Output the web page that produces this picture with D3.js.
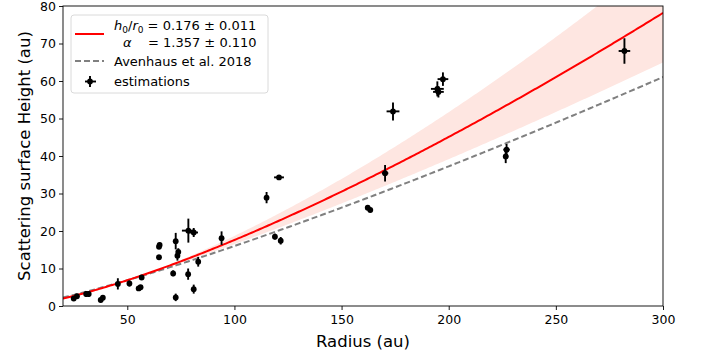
<!DOCTYPE html>
<html>
<head>
<meta charset="utf-8">
<script src="https://cdn.jsdelivr.net/npm/d3@7"></script>
<style>
  body { margin: 0; background: #fff; }
  svg { font-family: "DejaVu Sans", sans-serif; }
</style>
</head>
<body>
<svg id="chart" width="702" height="353"></svg>
<script>
// fitted parameters and the Avenhaus et al. 2018 relation
const h0r0 = 0.176, h0r0Err = 0.011;
const alpha = 1.357, alphaErr = 0.110;
const r0 = 100;
const avenH0r0 = 0.16, avenAlpha = 1.219;

// estimations: radius, height, errors
const radius = [25, 26.5, 30.8, 32, 37.6, 38.6, 45.6, 51, 55.3, 56.2, 56.7, 64.8, 65.1, 64.8,
  72.6, 73.4, 73.8, 71.4, 72.6, 78.4, 78.5, 81, 81, 83.1, 94, 115, 120.8, 118.9, 121.6,
  162.2, 163.4, 170.3, 174, 194.7, 195.2, 197.3, 227, 226.6, 282];
const height = [2.0, 2.6, 3.2, 3.2, 1.6, 2.2, 5.9, 6.0, 4.7, 5.0, 7.6, 15.8, 16.3, 13.0,
  17.3, 13.4, 14.4, 8.7, 2.3, 8.5, 20.1, 19.6, 4.5, 11.8, 18.1, 28.9, 34.3, 18.5, 17.4,
  26.2, 25.6, 35.4, 51.9, 57.9, 57.1, 60.5, 41.7, 39.9, 68.0];
const radiusErr = [0.5, 0.5, 0.6, 0.6, 0.4, 0.4, 0.4, 0.5, 0.5, 0.5, 0.5, 0.4, 0.4, 0.3,
  1.0, 0.5, 0.5, 0.8, 0.4, 0.4, 3.0, 2.0, 0.3, 0.5, 0.5, 0.6, 2.3, 1.0, 0.5,
  0.5, 0.5, 1.5, 3.0, 3.0, 2.5, 2.5, 1.5, 1.2, 2.7];
const heightErr = [0.5, 0.5, 0.8, 0.8, 0.6, 0.6, 1.5, 0.8, 0.5, 0.5, 0.6, 0.6, 0.6, 0.4,
  2.2, 1.3, 1.0, 0.8, 1.0, 1.5, 3.2, 1.2, 1.2, 1.3, 1.8, 1.5, 0.4, 0.8, 1.0,
  0.5, 0.5, 2.2, 2.4, 2.0, 1.5, 1.8, 1.5, 1.8, 3.4];

const xTicks = [50, 100, 150, 200, 250, 300];
const yTicks = [0, 10, 20, 30, 40, 50, 60, 70, 80];

const svg = d3.select("#chart");
const margin = {left: 63, right: 39, top: 6, bottom: 47};
const W = 702 - margin.left - margin.right,
      H = 353 - margin.top - margin.bottom;

const x = d3.scaleLinear().domain([20, 300]).range([0, W]);
const y = d3.scaleLinear().domain([0, 80]).range([H, 0]);

svg.append("defs").append("clipPath").attr("id", "clip")
  .append("rect").attr("width", W).attr("height", H);

const g = svg.append("g").attr("transform", `translate(${margin.left},${margin.top})`);
const plot = g.append("g").attr("clip-path", "url(#clip)");

const model = (a, b) => r => 100 * a * Math.pow(r / r0, b);
const fit = model(h0r0, alpha),
      lo = model(h0r0 - h0r0Err, alpha - alphaErr),
      hi = model(h0r0 + h0r0Err, alpha + alphaErr),
      aven = model(avenH0r0, avenAlpha);

const rr = d3.range(20, 300.5, 1);

plot.append("path")
  .datum(rr)
  .attr("fill", "#fee6e1")
  .attr("d", d3.area().x(d => x(d)).y0(d => y(lo(d))).y1(d => y(hi(d))));

plot.append("path")
  .datum(rr)
  .attr("fill", "none").attr("stroke", "#808080").attr("stroke-width", 2)
  .attr("stroke-dasharray", "6,3")
  .attr("d", d3.line().x(d => x(d)).y(d => y(aven(d))));

plot.append("path")
  .datum(rr)
  .attr("fill", "none").attr("stroke", "#ff0000").attr("stroke-width", 2)
  .attr("d", d3.line().x(d => x(d)).y(d => y(fit(d))));

// error bars
const pts = radius.map((r, i) => ({r, h: height[i], er: radiusErr[i], eh: heightErr[i]}));
const eb = plot.append("g").attr("stroke", "#000").attr("stroke-width", 1.9);
eb.selectAll(".v").data(pts).enter().append("line")
  .attr("x1", d => x(d.r)).attr("x2", d => x(d.r))
  .attr("y1", d => y(d.h - d.eh)).attr("y2", d => y(d.h + d.eh));
eb.selectAll(".h").data(pts).enter().append("line")
  .attr("x1", d => x(d.r - d.er)).attr("x2", d => x(d.r + d.er))
  .attr("y1", d => y(d.h)).attr("y2", d => y(d.h));
plot.append("g").selectAll("circle").data(pts).enter().append("circle")
  .attr("cx", d => x(d.r)).attr("cy", d => y(d.h)).attr("r", 2.9).attr("fill", "#000");

// axes
const xAxis = g.append("g").attr("transform", `translate(0,${H})`)
  .call(d3.axisBottom(x).tickValues(xTicks).tickSize(4).tickPadding(5));
const yAxis = g.append("g")
  .call(d3.axisLeft(y).tickValues(yTicks).tickSize(4).tickPadding(3));
[xAxis, yAxis].forEach(a => {
  a.select(".domain").remove();
  a.selectAll("text").attr("font-size", 12.5).attr("fill", "#000")
    .attr("font-family", "DejaVu Sans");
  a.selectAll("line").attr("stroke", "#000").attr("stroke-width", 0.9);
});
g.append("rect").attr("width", W).attr("height", H)
  .attr("fill", "none").attr("stroke", "#000").attr("stroke-width", 0.9);

svg.append("text").attr("x", margin.left + W / 2).attr("y", 347)
  .attr("text-anchor", "middle").attr("font-size", 16.5).text("Radius (au)");
svg.append("text").attr("transform", `translate(30,${margin.top + H / 2}) rotate(-90)`)
  .attr("text-anchor", "middle").attr("font-size", 16.5).text("Scattering surface Height (au)");

// legend
const lg = svg.append("g");
lg.append("rect").attr("x", 71).attr("y", 15).attr("width", 197).attr("height", 78)
  .attr("rx", 3).attr("fill", "#fff").attr("fill-opacity", 0.8)
  .attr("stroke", "#d6d6d6").attr("stroke-width", 0.9);
lg.append("line").attr("x1", 75).attr("x2", 104).attr("y1", 34).attr("y2", 34)
  .attr("stroke", "#ff0000").attr("stroke-width", 2);
lg.append("line").attr("x1", 75).attr("x2", 104).attr("y1", 61).attr("y2", 61)
  .attr("stroke", "#808080").attr("stroke-width", 2).attr("stroke-dasharray", "6,3");
lg.append("line").attr("x1", 90).attr("x2", 90).attr("y1", 76).attr("y2", 87)
  .attr("stroke", "#000").attr("stroke-width", 1.9);
lg.append("line").attr("x1", 85).attr("x2", 96).attr("y1", 81.5).attr("y2", 81.5)
  .attr("stroke", "#000").attr("stroke-width", 1.9);
lg.append("circle").attr("cx", 90).attr("cy", 81.5).attr("r", 2.9);

const t1 = lg.append("text").attr("x", 114).attr("y", 30).attr("font-size", 13);
t1.append("tspan").attr("font-style", "italic").text("h");
t1.append("tspan").attr("font-size", 9).attr("dy", 2.5).text("0");
t1.append("tspan").attr("dy", -2.5).text("/");
t1.append("tspan").attr("font-style", "italic").text("r");
t1.append("tspan").attr("font-size", 9).attr("dy", 2.5).text("0");
t1.append("tspan").attr("dy", -2.5).text(" = 0.176 ± 0.011");
lg.append("text").attr("x", 123).attr("y", 46.5).attr("font-size", 13)
  .attr("font-style", "italic").text("α");
lg.append("text").attr("x", 148).attr("y", 46.5).attr("font-size", 13).text("= 1.357 ± 0.110");
lg.append("text").attr("x", 114).attr("y", 66).attr("font-size", 13).text("Avenhaus et al. 2018");
lg.append("text").attr("x", 114).attr("y", 86).attr("font-size", 13).text("estimations");
</script>
</body>
</html>
